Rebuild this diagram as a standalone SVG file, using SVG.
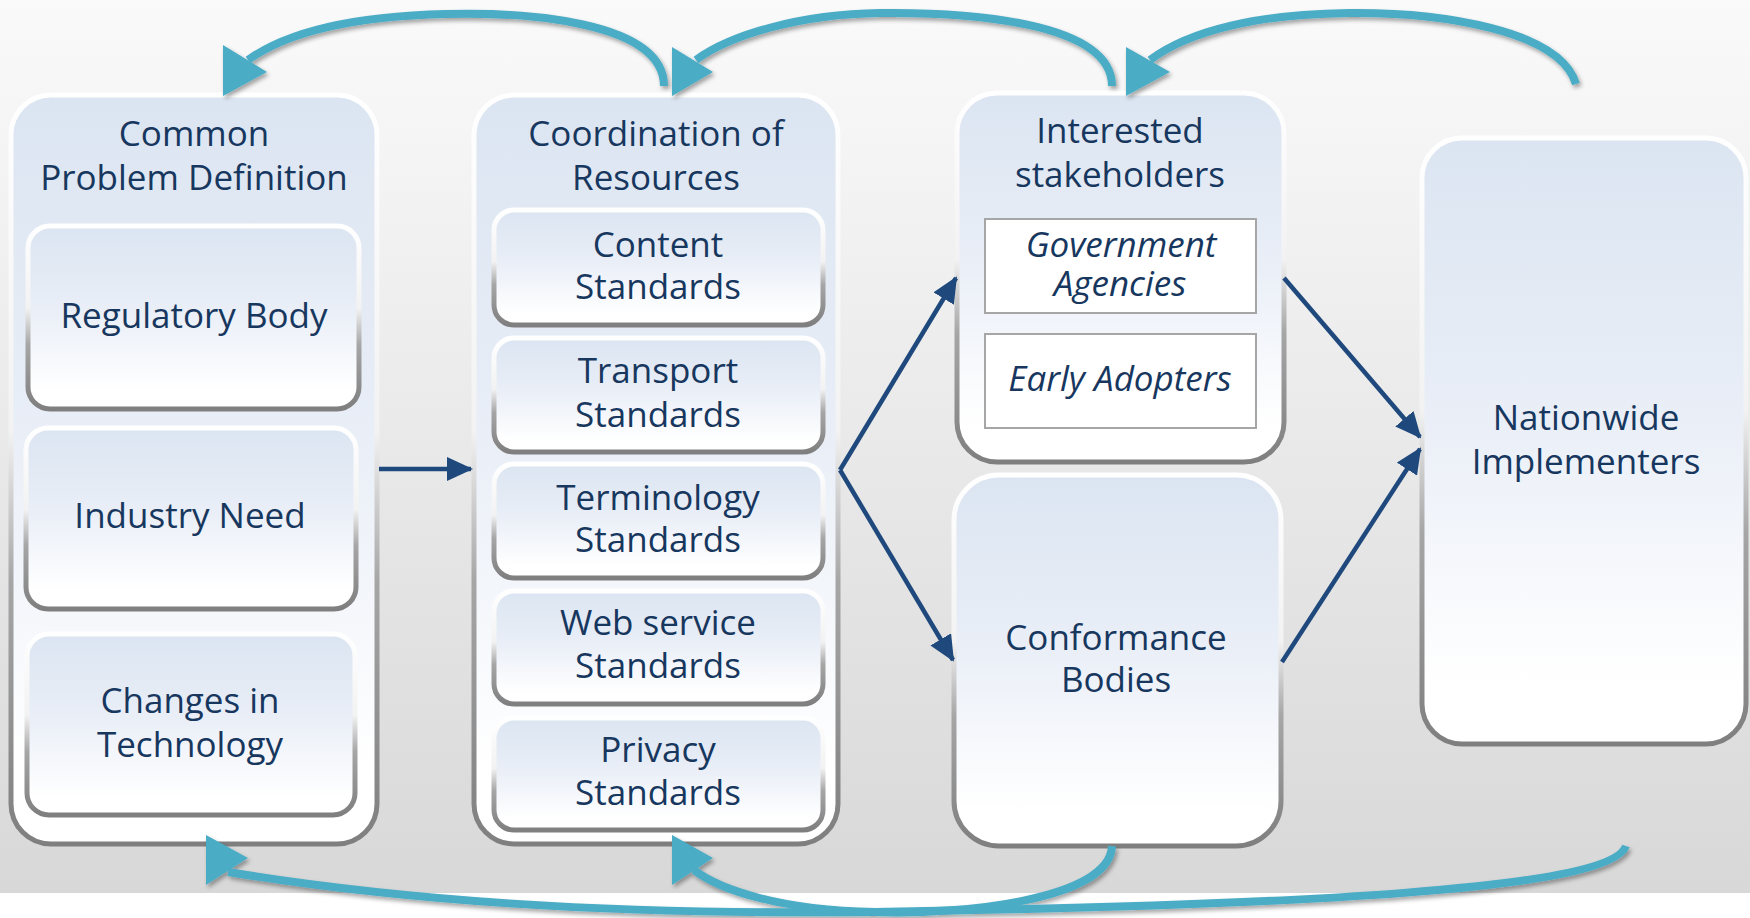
<svg xmlns="http://www.w3.org/2000/svg" width="1750" height="918" viewBox="0 0 1750 918">
<defs>
<linearGradient id="bg" x1="0" y1="0" x2="0" y2="1">
<stop offset="0" stop-color="#fafafa"/>
<stop offset="1" stop-color="#d8d8d8"/>
</linearGradient>
<linearGradient id="fill" x1="0" y1="0" x2="0" y2="1">
<stop offset="0" stop-color="#dbe5f1"/>
<stop offset="0.45" stop-color="#e9eef7"/>
<stop offset="0.9" stop-color="#ffffff"/>
</linearGradient>
<linearGradient id="edge" x1="0" y1="0" x2="0" y2="1">
<stop offset="0" stop-color="#ffffff"/>
<stop offset="0.45" stop-color="#f2f2f2"/>
<stop offset="0.65" stop-color="#a6a6a6"/>
<stop offset="1" stop-color="#7f7f7f"/>
</linearGradient>
<filter id="sh" x="-10%" y="-10%" width="120%" height="130%">
<feDropShadow dx="2" dy="3" stdDeviation="2" flood-color="#000" flood-opacity="0.35"/>
</filter>
<marker id="ah" markerUnits="userSpaceOnUse" markerWidth="26" markerHeight="24" refX="24" refY="12" orient="auto">
<path d="M0 0 L26 12 L0 24 Z" fill="#1f497d"/>
</marker>
<style>
.box{fill:url(#fill);stroke:url(#edge);stroke-width:5}
.sub{fill:url(#fill);stroke:url(#edge);stroke-width:5}
.rect{fill:#ffffff;stroke:#a6a6a6;stroke-width:2}
text{font-family:"Open Sans","Noto Sans","Liberation Sans",sans-serif;font-size:35px;fill:#17375e;text-anchor:middle}
.it{font-style:italic}
.dark{fill:none;stroke:#1f497d;stroke-width:4.5;marker-end:url(#ah)}
.teal{fill:none;stroke:#4bacc6;stroke-width:8;stroke-linecap:butt}
.tip{fill:#4bacc6}
</style>
</defs>
<rect x="0" y="0" width="1750" height="893" fill="url(#bg)"/>
<rect x="0" y="893" width="1750" height="25" fill="#ffffff"/>

<g id="common-problem-definition">
<rect class="box" x="11" y="95" width="366" height="749" rx="40"/>
<text x="194" y="146">Common</text>
<text x="194" y="190">Problem Definition</text>
</g>
<g id="regulatory-body">
<rect class="sub" x="28" y="226" width="331" height="183" rx="22"/>
<text x="194" y="328">Regulatory Body</text>
</g>
<g id="industry-need">
<rect class="sub" x="26" y="428" width="330" height="181" rx="22"/>
<text x="190" y="528">Industry Need</text>
</g>
<g id="changes-in-technology">
<rect class="sub" x="27" y="634" width="328" height="181" rx="22"/>
<text x="190" y="713">Changes in</text>
<text x="190" y="757">Technology</text>
</g>

<g id="coordination-of-resources">
<rect class="box" x="474" y="95" width="364" height="749" rx="40"/>
<text x="656" y="146">Coordination of</text>
<text x="656" y="190">Resources</text>
</g>
<g id="content-standards">
<rect class="sub" x="494" y="210" width="329" height="115" rx="20"/>
<text x="658" y="257">Content</text>
<text x="658" y="299">Standards</text>
</g>
<g id="transport-standards">
<rect class="sub" x="494" y="338" width="329" height="114" rx="20"/>
<text x="658" y="383">Transport</text>
<text x="658" y="427">Standards</text>
</g>
<g id="terminology-standards">
<rect class="sub" x="494" y="464" width="329" height="114" rx="20"/>
<text x="658" y="510">Terminology</text>
<text x="658" y="552">Standards</text>
</g>
<g id="web-service-standards">
<rect class="sub" x="494" y="591" width="329" height="113" rx="20"/>
<text x="658" y="635">Web service</text>
<text x="658" y="678">Standards</text>
</g>
<g id="privacy-standards">
<rect class="sub" x="494" y="718" width="329" height="112" rx="20"/>
<text x="658" y="762">Privacy</text>
<text x="658" y="805">Standards</text>
</g>

<g id="interested-stakeholders">
<rect class="box" x="957" y="93" width="327" height="369" rx="40"/>
<text x="1120" y="143">Interested</text>
<text x="1120" y="187">stakeholders</text>
</g>
<g id="government-agencies">
<rect class="rect" x="985" y="219" width="271" height="94"/>
<text class="it" x="1121" y="257">Government</text>
<text class="it" x="1120" y="296">Agencies</text>
</g>
<g id="early-adopters">
<rect class="rect" x="985" y="334" width="271" height="94"/>
<text class="it" x="1120" y="391">Early Adopters</text>
</g>

<g id="conformance-bodies">
<rect class="box" x="954" y="475" width="327" height="371" rx="45"/>
<text x="1116" y="650">Conformance</text>
<text x="1116" y="692">Bodies</text>
</g>

<g id="nationwide-implementers">
<rect class="box" x="1422" y="138" width="324" height="606" rx="40"/>
<text x="1586" y="430">Nationwide</text>
<text x="1586" y="474">Implementers</text>
</g>

<g id="connectors">
<line class="dark" x1="379" y1="469" x2="471" y2="469"/>
<line class="dark" x1="840" y1="470" x2="956" y2="278"/>
<line class="dark" x1="840" y1="470" x2="953" y2="660"/>
<line class="dark" x1="1284" y1="278" x2="1420" y2="437"/>
<line class="dark" x1="1282" y1="662" x2="1420" y2="449"/>

<g filter="url(#sh)">
<path class="teal" d="M664 86 C664 20 520 12 446 14 C360 16 290 30 248 60"/>
<polygon class="tip" points="223,45 267,72 223,96"/>
<path class="teal" d="M1112 86 C1112 20 960 12 880 13 C800 14 730 35 696 60"/>
<polygon class="tip" points="672,47 713,72 672,96"/>
<path class="teal" d="M1576 84 C1560 30 1440 12 1349 13 C1260 14 1190 30 1150 60"/>
<polygon class="tip" points="1126,47 1170,72 1126,96"/>
<path class="teal" d="M1626 846 C1610 890 1300 905 875 912 C600 915 400 900 228 872"/>
<polygon class="tip" points="206,835 248,858 206,885"/>
<path class="teal" d="M1112 846 C1110 900 960 915 875 912 C780 910 720 890 694 870"/>
<polygon class="tip" points="672,835 713,858 672,885"/>
</g>
</g>
</svg>
